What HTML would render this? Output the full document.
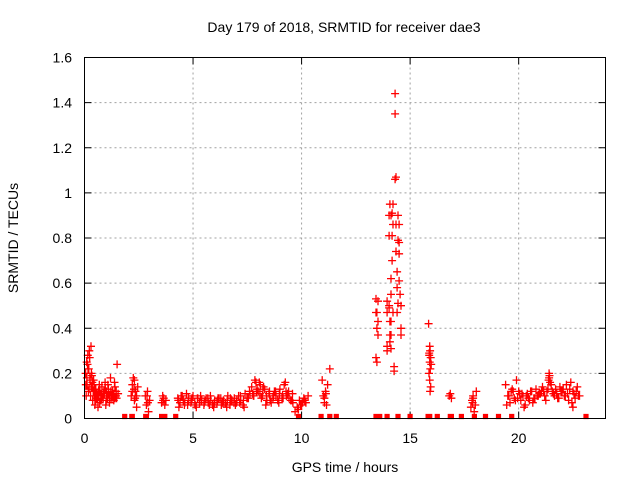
<!DOCTYPE html>
<html><head><meta charset="utf-8"><style>
body{margin:0;background:#fff}
svg{display:block;font-family:"Liberation Sans",sans-serif}
</style></head><body>
<svg id="chart" width="640" height="480" viewBox="0 0 640 480">
<text x="344" y="32" font-size="14" text-anchor="middle" fill="#000">Day 179 of 2018, SRMTID for receiver dae3</text>
<text transform="translate(18,238) rotate(-90)" font-size="14" text-anchor="middle">SRMTID / TECUs</text>
<text x="345" y="472" font-size="14" text-anchor="middle">GPS time / hours</text>
<g id="grid"></g>
<g id="ticks"></g>
<g id="marks"></g>
<rect x="84.5" y="57.5" width="521" height="361" fill="none" stroke="#000" stroke-width="1"/>
</svg>
<script>
const xTicks=[0,5,10,15,20];
const yTicks=[0,0.2,0.4,0.6,0.8,1,1.2,1.4,1.6];
const yTickLabels=["0","0.2","0.4","0.6","0.8","1","1.2","1.4","1.6"];
const hours=[
0.05,0.1,0.12,0.15,0.18,0.2,0.22,0.25,0.28,0.3,0.32,0.35,0.38,0.4,0.42,0.45,0.48,0.5,0.52,0.55,0.6,0.62,0.65,0.7,0.75,0.8,0.85,0.9,0.95,1.0,1.05,1.1,1.15,1.2,1.25,1.3,1.35,1.4,1.45,1.5,0.08,0.14,0.24,0.34,0.44,0.58,0.68,0.78,0.88,0.98,1.08,1.18,1.28,1.38,1.48,1.55,
0.06,0.11,0.16,0.21,0.26,0.31,0.36,0.41,0.46,0.51,0.56,0.61,0.66,0.71,0.76,0.81,0.86,0.91,0.96,1.01,1.06,1.11,1.16,1.21,1.26,1.31,1.36,1.41,1.46,
2.15,2.2,2.25,2.3,2.35,2.4,2.45,2.2,2.3,2.4,2.28,2.33,
2.8,2.85,2.9,2.95,3.0,2.88,2.92,
3.55,3.6,3.65,3.7,3.75,3.62,
4.3,4.4,4.5,4.6,4.7,4.8,4.9,5.0,5.1,5.2,5.3,5.4,5.5,5.6,5.7,5.8,5.9,6.0,6.1,6.2,6.3,6.4,6.5,6.6,6.7,6.8,6.9,7.0,7.1,7.2,7.3,7.4,7.5,7.6,7.7,7.8,7.9,8.0,8.1,8.2,8.3,8.4,8.5,8.6,8.7,8.8,8.9,9.0,9.1,9.2,9.3,9.4,9.5,9.6,
4.35,4.55,4.75,4.95,5.15,5.35,5.55,5.75,5.95,6.15,6.35,6.55,6.75,6.95,7.15,7.35,7.55,7.75,7.95,8.15,8.35,8.55,8.75,8.95,9.15,9.35,9.55,7.85,8.05,8.25,9.25,
4.32,4.45,4.62,4.78,4.92,5.08,5.22,5.38,5.52,5.68,5.82,5.98,6.12,6.28,6.42,6.58,6.72,6.88,7.02,7.18,7.32,7.48,7.62,7.78,7.92,8.08,8.22,8.38,8.52,8.68,8.82,8.98,9.12,9.28,9.42,9.58,
9.7,9.8,9.9,10.0,10.1,10.2,10.3,9.85,10.05,9.95,10.15,
10.95,11.0,11.05,11.1,11.15,11.2,11.3,11.05,11.12,
13.43,13.47,13.52,13.43,13.47,13.52,13.47,13.43,13.52,13.94,14.31,14.31,14.35,14.31,14.21,14.07,14.17,14.03,14.12,14.44,14.21,14.49,14.35,14.03,14.17,14.44,14.49,14.35,14.49,14.17,14.4,14.12,14.49,14.4,14.54,14.12,13.94,14.03,14.44,14.58,14.03,13.94,14.21,14.4,14.12,14.58,14.07,14.12,14.58,14.07,14.07,14.12,13.94,14.26,14.26,13.94,
15.85,15.9,15.92,15.88,15.95,15.9,15.93,15.87,15.9,15.95,15.92,15.97,15.88,
16.8,16.85,16.9,
17.8,17.85,17.9,17.95,18.0,18.05,17.9,17.88,
19.4,19.5,19.6,19.7,19.8,19.9,20.0,20.1,20.2,20.3,20.4,20.5,20.6,20.7,20.8,20.9,21.0,21.1,21.2,21.3,21.4,21.5,21.6,21.7,21.8,21.9,22.0,22.1,22.2,22.3,22.4,22.5,22.6,22.7,22.8,
19.45,19.65,19.85,20.05,20.25,20.45,20.65,20.85,21.05,21.25,21.45,21.65,21.85,22.05,22.25,22.45,22.65,21.4,22.1,22.5,
19.55,19.75,19.95,20.15,20.35,20.55,20.75,20.95,21.15,21.35,21.55,21.75,21.95,22.15,22.35,22.55,22.75,21.38,21.42
];
const srmtid=[
0.2,0.25,0.15,0.28,0.12,0.22,0.3,0.18,0.1,0.32,0.2,0.14,0.08,0.12,0.17,0.1,0.06,0.08,0.13,0.09,0.1,0.05,0.12,0.07,0.11,0.14,0.09,0.12,0.16,0.08,0.1,0.13,0.07,0.18,0.1,0.12,0.08,0.14,0.1,0.24,0.1,0.24,0.27,0.19,0.15,0.11,0.15,0.09,0.11,0.06,0.15,0.09,0.11,0.16,0.09,0.11,
0.15,0.18,0.22,0.13,0.17,0.14,0.16,0.12,0.13,0.1,0.11,0.09,0.1,0.12,0.08,0.1,0.09,0.11,0.13,0.12,0.09,0.11,0.1,0.12,0.09,0.1,0.11,0.09,0.12,
0.1,0.15,0.18,0.08,0.12,0.05,0.14,0.12,0.17,0.1,0.13,0.09,
0.1,0.06,0.12,0.03,0.08,0.1,0.07,
0.07,0.1,0.09,0.06,0.08,0.08,
0.09,0.07,0.1,0.06,0.11,0.08,0.07,0.1,0.06,0.09,0.07,0.08,0.06,0.09,0.07,0.1,0.06,0.08,0.07,0.09,0.06,0.08,0.07,0.1,0.06,0.08,0.09,0.07,0.1,0.08,0.06,0.11,0.09,0.12,0.14,0.1,0.16,0.12,0.15,0.1,0.13,0.08,0.11,0.07,0.1,0.12,0.08,0.13,0.09,0.15,0.1,0.12,0.08,0.07,
0.05,0.08,0.06,0.09,0.05,0.1,0.08,0.06,0.05,0.09,0.07,0.05,0.08,0.06,0.07,0.05,0.09,0.11,0.13,0.09,0.06,0.08,0.12,0.07,0.09,0.11,0.08,0.17,0.16,0.14,0.16,
0.08,0.1,0.07,0.09,0.08,0.07,0.09,0.08,0.07,0.09,0.08,0.07,0.08,0.09,0.07,0.08,0.09,0.07,0.08,0.1,0.08,0.09,0.11,0.1,0.12,0.11,0.13,0.1,0.12,0.09,0.1,0.11,0.1,0.12,0.09,0.11,
0.03,0.05,0.08,0.06,0.09,0.07,0.1,0.04,0.07,0.06,0.08,
0.17,0.1,0.07,0.12,0.06,0.15,0.22,0.09,0.11,
0.53,0.47,0.43,0.27,0.25,0.37,0.4,0.47,0.52,0.52,1.44,1.35,1.07,1.06,0.95,0.95,0.91,0.9,0.9,0.9,0.86,0.86,0.86,0.81,0.81,0.79,0.78,0.74,0.73,0.7,0.65,0.62,0.61,0.58,0.55,0.55,0.52,0.5,0.51,0.5,0.49,0.47,0.47,0.47,0.43,0.4,0.43,0.37,0.37,0.37,0.34,0.31,0.32,0.23,0.21,0.3,
0.42,0.32,0.3,0.28,0.27,0.25,0.22,0.2,0.17,0.14,0.12,0.24,0.29,
0.1,0.11,0.09,
0.05,0.08,0.1,0.03,0.06,0.12,0.09,0.07,
0.15,0.1,0.07,0.13,0.09,0.17,0.12,0.08,0.1,0.06,0.11,0.08,0.12,0.09,0.13,0.1,0.11,0.14,0.1,0.12,0.2,0.15,0.11,0.13,0.09,0.14,0.12,0.1,0.15,0.08,0.16,0.12,0.09,0.14,0.1,
0.06,0.12,0.08,0.11,0.05,0.09,0.07,0.1,0.12,0.08,0.16,0.1,0.09,0.13,0.11,0.07,0.12,0.18,0.1,0.05,
0.1,0.12,0.09,0.11,0.1,0.12,0.09,0.11,0.12,0.13,0.12,0.11,0.12,0.1,0.13,0.11,0.1,0.17,0.19
];
const zeroHours=[1.85,2.18,2.2,2.82,2.85,3.55,3.62,3.7,4.2,9.86,10.9,11.3,11.6,13.43,13.6,13.94,14.44,15.0,15.83,15.9,16.25,16.85,16.9,17.36,17.96,18.47,19.07,19.68,23.1];

const X0=84.5,X1=605.5,Y0=418.5,Y1=57.5,XMAX=24.0,YMAX=1.6;
function xs(h){return X0+(X1-X0)*h/XMAX;}
function ys(v){return Y0-(Y0-Y1)*v/YMAX;}
const NS="http://www.w3.org/2000/svg";
const grid=document.getElementById('grid'),ticks=document.getElementById('ticks'),marks=document.getElementById('marks');
function mk(tag,attrs,parent){const e=document.createElementNS(NS,tag);for(const k in attrs)e.setAttribute(k,attrs[k]);parent.appendChild(e);return e;}
xTicks.forEach(t=>{
  const x=xs(t);
  if(t>0){const g=mk('line',{x1:x,x2:x,y1:Y1,y2:Y0,stroke:'#a0a0a0','stroke-dasharray':'2,3'},grid);
  
  }
  const a=mk('line',{x1:x,x2:x,y1:Y0,y2:Y0-7,stroke:'#000'},ticks);
  
  
  const b=mk('line',{x1:x,x2:x,y1:Y1,y2:Y1+7,stroke:'#000'},ticks);
  
  
  const l=mk('text',{x:x,y:443,'font-size':14,'text-anchor':'middle'},ticks);l.textContent=t;
  
  
});
yTicks.forEach((t,i)=>{
  const y=ys(t);
  if(t>0&&t<YMAX){const g=mk('line',{x1:X0,x2:X1,y1:y,y2:y,stroke:'#a0a0a0','stroke-dasharray':'2,3'},grid);
  
  }
  const a=mk('line',{x1:X0,x2:X0+7,y1:y,y2:y,stroke:'#000'},ticks);
  
  
  const b=mk('line',{x1:X1,x2:X1-7,y1:y,y2:y,stroke:'#000'},ticks);
  
  
  const l=mk('text',{x:72,y:y+5,'font-size':14,'text-anchor':'end'},ticks);l.textContent=yTickLabels[i];
  
  
});
let d='';
hours.forEach((h,i)=>{const x=xs(h),y=ys(srmtid[i]);d+=`M${(x-4).toFixed(1)} ${y.toFixed(1)}h8M${x.toFixed(1)} ${(y-4).toFixed(1)}v8`;});
const p=mk('path',{d:d,stroke:'#ff0000','stroke-width':1.3,fill:'none'},marks);


let dz='';
zeroHours.forEach(h=>{const x=xs(h);dz+=`M${(x-2).toFixed(1)} ${Y0-4}h4v4h-4zM${x.toFixed(1)} ${Y0-4}v4`;});
const z=mk('path',{d:dz,stroke:'#ff0000','stroke-width':1.2,fill:'#ff0000'},marks);


</script>
</body></html>
